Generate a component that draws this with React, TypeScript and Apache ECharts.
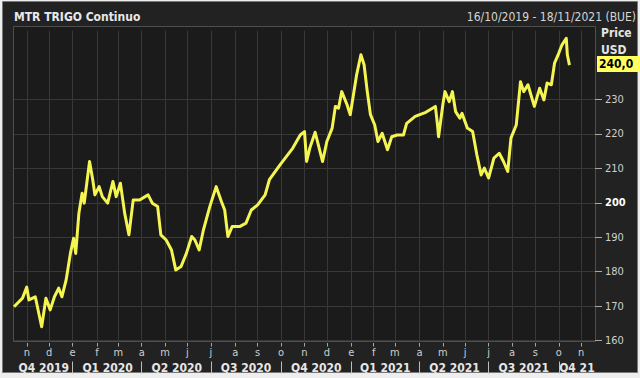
import React, { useEffect, useRef } from 'react';
import * as echarts from 'echarts';

const AXIS_START = '2019-10-16';
const AXIS_END = '2021-11-18';
const titleText = 'MTR TRIGO Continuo';
const rangeText = '16/10/2019 - 18/11/2021 (BUE)';
const unitLines = ['Price', 'USD'];
const monthInitials = ['e', 'f', 'm', 'a', 'm', 'j', 'j', 'a', 's', 'o', 'n', 'd'];
const quarterLabels = ['Q4 2019', 'Q1 2020', 'Q2 2020', 'Q3 2020', 'Q4 2020', 'Q1 2021', 'Q2 2021', 'Q3 2021', 'Q4 21'];
const yTickLabels = [160, 170, 180, 190, 200, 210, 220, 230];

const priceDates = [
  '2019-10-16', '2019-10-28', '2019-11-01', '2019-11-05', '2019-11-13', '2019-11-21', '2019-11-27',
  '2019-12-03', '2019-12-09', '2019-12-13', '2019-12-18', '2019-12-24', '2019-12-30',
  '2020-01-02', '2020-01-06', '2020-01-09', '2020-01-14', '2020-01-16', '2020-01-23', '2020-01-28', '2020-01-30',
  '2020-02-05', '2020-02-10', '2020-02-17', '2020-02-24', '2020-02-27',
  '2020-03-04', '2020-03-10', '2020-03-16', '2020-03-20', '2020-03-30',
  '2020-04-09', '2020-04-15', '2020-04-22', '2020-04-27',
  '2020-05-04', '2020-05-11', '2020-05-15', '2020-05-22', '2020-05-29',
  '2020-06-05', '2020-06-10', '2020-06-16', '2020-06-22', '2020-06-30',
  '2020-07-08', '2020-07-15', '2020-07-20', '2020-07-23', '2020-07-29',
  '2020-08-07', '2020-08-17', '2020-08-24',
  '2020-09-01', '2020-09-10', '2020-09-16', '2020-09-30',
  '2020-10-16', '2020-10-27',
  '2020-11-02', '2020-11-04', '2020-11-09', '2020-11-16', '2020-11-19', '2020-11-25',
  '2020-12-01', '2020-12-08', '2020-12-11', '2020-12-16', '2020-12-21', '2020-12-28', '2020-12-31',
  '2021-01-05', '2021-01-08', '2021-01-14', '2021-01-19', '2021-01-22', '2021-01-27',
  '2021-02-02', '2021-02-05', '2021-02-11', '2021-02-18', '2021-02-24',
  '2021-03-03', '2021-03-11', '2021-03-16', '2021-03-26',
  '2021-04-09', '2021-04-22', '2021-04-26', '2021-04-27',
  '2021-05-03', '2021-05-05', '2021-05-11', '2021-05-14', '2021-05-19', '2021-05-25', '2021-05-27',
  '2021-06-03', '2021-06-10', '2021-06-16', '2021-06-22', '2021-06-25',
  '2021-07-01', '2021-07-08', '2021-07-15', '2021-07-21', '2021-07-27', '2021-07-30',
  '2021-08-06', '2021-08-12', '2021-08-17', '2021-08-23', '2021-08-31',
  '2021-09-07', '2021-09-13', '2021-09-16', '2021-09-22', '2021-09-27',
  '2021-10-01', '2021-10-06', '2021-10-12', '2021-10-13', '2021-10-15',
];

const priceValues = [
  169.8, 172.3, 175.5, 171.8, 172.7, 164.0, 172.3,
  168.9, 172.7, 175.2, 172.7, 177.6, 185.3,
  189.7, 185.3, 197.0, 202.8, 199.9, 212.0, 206.7, 202.3,
  204.7, 201.8, 199.9, 206.2, 201.8,
  205.7, 197.0, 190.7, 200.8, 200.8,
  202.3, 199.9, 198.9, 190.7,
  189.2, 186.3, 180.5, 181.5, 185.3,
  190.2, 189.2, 186.3, 192.1, 198.9,
  204.7, 200.3, 197.9, 190.2, 193.1,
  193.1, 194.1, 197.9,
  199.4, 202.3, 206.7, 211.0,
  215.9, 219.7,
  220.7, 212.0, 215.9, 220.5, 216.8, 212.0,
  217.8, 221.7, 228.0, 227.5, 232.3, 228.5, 225.6,
  231.4, 237.2, 243.0, 240.1, 232.3, 225.6,
  222.6, 217.8, 220.2, 215.4, 219.2,
  219.7, 219.7, 223.1, 225.1,
  226.3, 228.0, 222.6, 219.2,
  228.5, 232.3, 229.4, 232.3, 226.5, 224.6, 226.0,
  221.7, 220.7, 213.9, 208.1, 210.1,
  207.2, 213.0, 214.4, 212.0, 209.1, 218.8,
  222.6, 235.2, 232.3, 234.3, 228.0,
  233.3, 229.9, 234.8, 234.3, 240.6,
  243.5, 245.9, 247.8, 243.0, 240.0,
];

const FONT = "'DejaVu Sans Condensed', Tahoma, 'DejaVu Sans', sans-serif";

function buildTradingDays(start: string, end: string): string[] {
  const out: string[] = [];
  const d = new Date(start + 'T00:00:00Z');
  const e = new Date(end + 'T00:00:00Z');
  while (d.getTime() <= e.getTime()) {
    const wd = d.getUTCDay();
    if (wd !== 0 && wd !== 6) out.push(d.toISOString().slice(0, 10));
    d.setUTCDate(d.getUTCDate() + 1);
  }
  return out;
}

export default function App() {
  const ref = useRef<HTMLDivElement>(null);

  useEffect(() => {
    if (!ref.current) return;
    const chart = echarts.init(ref.current, undefined, { renderer: 'svg' });

    const days = buildTradingDays(AXIS_START, AXIS_END);
    const monthStart = new Set<number>();
    const quarterStart: number[] = [];
    for (let i = 1; i < days.length; i++) {
      if (days[i].slice(5, 7) !== days[i - 1].slice(5, 7)) {
        monthStart.add(i);
        const m = +days[i].slice(5, 7);
        if (m === 1 || m === 4 || m === 7 || m === 10) quarterStart.push(i);
      }
    }
    const segStarts = [0, ...quarterStart];
    const segEnds = [...quarterStart, days.length - 1];
    const quarterMid = new Map<number, string>();
    segStarts.forEach((s, k) => {
      quarterMid.set(Math.round((s + segEnds[k]) / 2), quarterLabels[k] ?? '');
    });
    const qStartSet = new Set(quarterStart);

    const data = priceDates.map((d, i) => [d, priceValues[i]]);
    const lastValue = priceValues[priceValues.length - 1];

    const gridColor = '#383838';

    chart.setOption({
      animation: false,
      backgroundColor: '#eeeeee',
      textStyle: { fontFamily: FONT },
      grid: { left: 14, right: 45, top: 30.7, bottom: 37.5, containLabel: false },
      xAxis: [
        {
          type: 'category',
          data: days,
          boundaryGap: false,
          position: 'bottom',
          offset: 2.5,
          axisLine: { show: false },
          axisTick: {
            show: true,
            interval: (i: number) => monthStart.has(i),
            length: 3.5,
            lineStyle: { color: '#a8a8a8' },
          },
          axisLabel: {
            interval: (i: number) => monthStart.has(i),
            formatter: (v: string) => monthInitials[+v.slice(5, 7) - 1],
            color: '#cfcfcf',
            fontSize: 11,
            fontFamily: FONT,
            margin: 4,
          },
          splitLine: {
            show: true,
            interval: (i: number) => monthStart.has(i),
            lineStyle: { color: gridColor, width: 1 },
          },
        },
        {
          type: 'category',
          data: days,
          boundaryGap: false,
          position: 'bottom',
          offset: 21,
          axisLine: { show: false },
          axisTick: {
            show: true,
            interval: (i: number) => qStartSet.has(i),
            length: 12,
            lineStyle: { color: '#bdbdbd' },
          },
          axisLabel: {
            interval: (i: number) => quarterMid.has(i),
            formatter: (_v: string, i: number) => quarterMid.get(i) ?? '',
            color: '#e6e6e6',
            fontSize: 12,
            fontWeight: 'bold',
            fontFamily: FONT,
            margin: 0,
          },
          splitLine: { show: false },
        },
      ],
      yAxis: {
        type: 'value',
        position: 'right',
        min: 160,
        max: 250,
        interval: 10,
        axisLine: { show: false },
        axisTick: {
          show: true,
          length: 7,
          customValues: yTickLabels,
          lineStyle: { color: '#a8a8a8' },
        },
        axisLabel: {
          customValues: yTickLabels,
          margin: 10,
          color: '#cfcfcf',
          fontSize: 11,
          fontFamily: FONT,
          formatter: (v: number) =>
            v === 200 ? '{b|200}' : yTickLabels.includes(v) ? String(v) : '',
          rich: {
            b: { fontWeight: 'bold', color: '#ffffff', fontSize: 11, fontFamily: FONT },
          },
        },
        splitLine: { show: true, lineStyle: { color: gridColor, width: 1 } },
      },
      series: [
        {
          type: 'line',
          data,
          showSymbol: false,
          symbol: 'none',
          lineStyle: { color: '#f5f552', width: 3, join: 'round' },
          z: 5,
        },
      ],
      graphic: [
        {
          id: 'outer',
          type: 'rect',
          z: -20,
          shape: { x: 2.5, y: 1.5, width: 635, height: 371 },
          style: { fill: '#222222', stroke: '#7a7a7a', lineWidth: 1 },
          silent: true,
        },
        {
          id: 'plot',
          type: 'rect',
          z: -10,
          shape: { x: 13.5, y: 26.5, width: 582, height: 315 },
          style: { fill: '#1b1b1b', stroke: '#4e4e4e', lineWidth: 1 },
          silent: true,
        },
        {
          id: 'title',
          type: 'text',
          x: 14,
          y: 17,
          style: {
            text: titleText,
            fill: '#e8e8e8',
            font: `bold 12px ${FONT}`,
            verticalAlign: 'middle',
            align: 'left',
          },
        },
        {
          id: 'range',
          type: 'text',
          x: 636,
          y: 17,
          style: {
            text: rangeText,
            fill: '#d6d6d6',
            font: `12px ${FONT}`,
            verticalAlign: 'middle',
            align: 'right',
          },
        },
        {
          id: 'unit1',
          type: 'text',
          x: 601,
          y: 33,
          style: { text: unitLines[0], fill: '#e4e4e4', font: `bold 12px ${FONT}`, verticalAlign: 'middle' },
        },
        {
          id: 'unit2',
          type: 'text',
          x: 601,
          y: 50,
          style: { text: unitLines[1], fill: '#e4e4e4', font: `bold 12px ${FONT}`, verticalAlign: 'middle' },
        },
      ],
    });

    const yTag = chart.convertToPixel({ yAxisIndex: 0 }, lastValue) as number;
    chart.setOption({
      graphic: [
        {
          id: 'tagbox',
          type: 'rect',
          z: 10,
          shape: { x: 597, y: yTag - 9, width: 43, height: 16 },
          style: { fill: '#ffff5e' },
        },
        {
          id: 'tagtext',
          type: 'text',
          z: 11,
          x: 599,
          y: yTag - 1,
          style: {
            text: lastValue.toFixed(1).replace('.', ','),
            fill: '#000000',
            font: `bold 12px ${FONT}`,
            verticalAlign: 'middle',
          },
        },
      ],
    });

    return () => chart.dispose();
  }, []);

  return (
    <div
      ref={ref}
      style={{ position: 'fixed', left: 0, top: 0, width: 640, height: 378 }}
    />
  );
}
